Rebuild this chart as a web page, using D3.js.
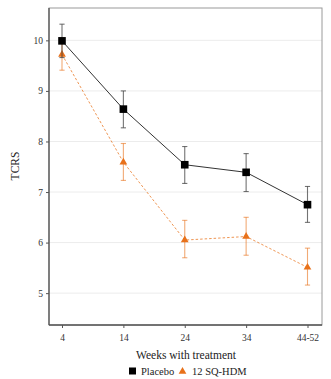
<!DOCTYPE html>
<html><head><meta charset="utf-8">
<script src="https://cdn.jsdelivr.net/npm/d3@7"></script>
<style>html,body{margin:0;padding:0;background:#fff;}svg text{font-family:"Liberation Serif","Times New Roman","DejaVu Serif",serif !important;}</style>
</head><body>
<svg id="c" width="331" height="379"></svg>
<script>
const weeks = ["4","14","24","34","44-52"];
const yTicks = [5,6,7,8,9,10];
const placeboMean = [9.99, 8.64, 7.54, 7.39, 6.75];
const placeboLow  = [9.66, 8.27, 7.17, 7.01, 6.40];
const placeboHigh = [10.32, 9.00, 7.90, 7.76, 7.11];
const hdmMean = [9.72, 7.59, 6.05, 6.12, 5.51];
const hdmLow  = [9.41, 7.23, 5.70, 5.75, 5.16];
const hdmHigh = [10.05, 7.96, 6.44, 6.50, 5.89];
const seriesNames = ["Placebo", "12 SQ-HDM"];

const svg = d3.select("#c");
const L = 49, R = 322, T = 8, B = 325;
const x = d3.scalePoint().domain(weeks).range([62, 307.5]);
const y = d3.scaleLinear().domain([4.37, 10.64]).range([B, T]);

// grid
svg.append("g").selectAll("line").data(yTicks).join("line")
  .attr("x1", L).attr("x2", R).attr("y1", d=>y(d)).attr("y2", d=>y(d))
  .attr("stroke", "#ececec").attr("stroke-width", 1);

// panel border (top/right light)
svg.append("rect").attr("x", L).attr("y", T).attr("width", R-L).attr("height", B-T)
  .attr("fill", "none").attr("stroke", "#9a9a9a").attr("stroke-width", 1);

// axes
const yAxis = d3.axisLeft(y).tickValues(yTicks).tickFormat(d3.format("d")).tickSize(3).tickPadding(3);
const gy = svg.append("g").attr("transform", `translate(${L},0)`).call(yAxis);
gy.select(".domain").attr("d", `M0,${T}V${B}`).attr("stroke", "#555").attr("stroke-width", 1.3);
gy.selectAll(".tick line").attr("stroke", "#555");
gy.selectAll(".tick text").attr("font-size", 9.5).attr("fill", "#333");

const xAxis = d3.axisBottom(x).tickSize(3).tickPadding(6);
const gx = svg.append("g").attr("transform", `translate(0,${B})`).call(xAxis);
gx.select(".domain").attr("d", `M${L},0H${R}`).attr("stroke", "#555").attr("stroke-width", 1.3);
gx.selectAll(".tick line").attr("stroke", "#555");
gx.selectAll(".tick text").attr("font-size", 9.5).attr("fill", "#333");

// titles
svg.append("text").attr("x", 186).attr("y", 359).attr("text-anchor", "middle")
  .attr("font-size", 11.5).attr("fill", "#222").text("Weeks with treatment");
svg.append("text").attr("transform", "translate(19,166) rotate(-90)").attr("text-anchor", "middle")
  .attr("font-size", 11.5).attr("fill", "#222").text("TCRS");

const orange = "#e8711a";
function drawSeries(mean, lo, hi, lineColor, dash, barColor, barOpacity, lineOpacity) {
  const g = svg.append("g");
  g.append("path").datum(weeks.map((w,i)=>[x(w), y(mean[i])]))
    .attr("d", d3.line()).attr("fill", "none").attr("stroke", lineColor)
    .attr("stroke-width", 1).attr("stroke-dasharray", dash).attr("stroke-opacity", lineOpacity);
  const eb = g.append("g").attr("stroke", barColor).attr("stroke-opacity", barOpacity).attr("stroke-width", 1.1);
  weeks.forEach((w,i)=>{
    const cx = x(w);
    eb.append("line").attr("x1", cx).attr("x2", cx).attr("y1", y(lo[i])).attr("y2", y(hi[i]));
    eb.append("line").attr("x1", cx-2.6).attr("x2", cx+2.6).attr("y1", y(lo[i])).attr("y2", y(lo[i]));
    eb.append("line").attr("x1", cx-2.6).attr("x2", cx+2.6).attr("y1", y(hi[i])).attr("y2", y(hi[i]));
  });
  return g;
}
const gP = drawSeries(placeboMean, placeboLow, placeboHigh, "#333", null, "#444", 0.75, 1);
const gH = drawSeries(hdmMean, hdmLow, hdmHigh, orange, "2.5,2", orange, 0.6, 0.75);

// markers
const tri = d3.symbol().type(d3.symbolTriangle).size(26);
gH.selectAll("path.m").data(hdmMean).join("path").attr("class","m")
  .attr("d", tri).attr("transform", (d,i)=>`translate(${x(weeks[i])},${y(d)})`).attr("fill", orange);
gP.selectAll("rect.m").data(placeboMean).join("rect").attr("class","m")
  .attr("x", (d,i)=>x(weeks[i])-3.8).attr("y", d=>y(d)-3.8).attr("width", 7.6).attr("height", 7.6).attr("fill", "#000");
svg.node().appendChild(gP.node());

// legend
const lg = svg.append("g").attr("font-size", 10.5).attr("fill", "#222");
lg.append("rect").attr("x", 129).attr("y", 367.5).attr("width", 7).attr("height", 7).attr("fill", "#000");
lg.append("text").attr("x", 141).attr("y", 374.5).text(seriesNames[0]);
lg.append("path").attr("d", d3.symbol().type(d3.symbolTriangle).size(26)).attr("transform", "translate(182.5,371.5)").attr("fill", orange);
lg.append("text").attr("x", 192).attr("y", 374.5).text(seriesNames[1]);
</script>
</body></html>
